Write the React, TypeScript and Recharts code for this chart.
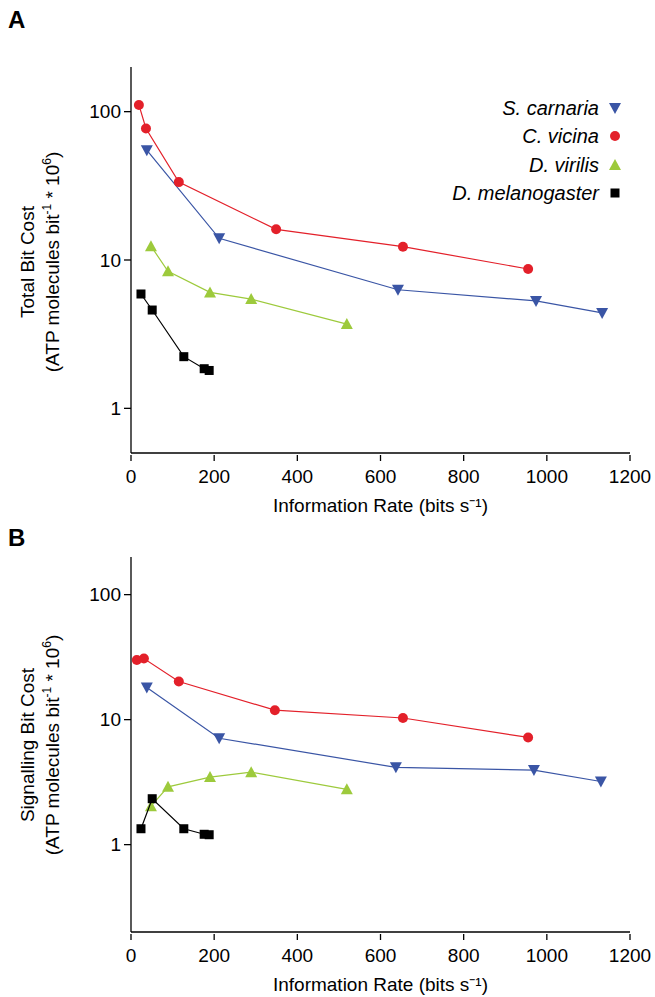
import React from 'react';
import { ScatterChart, Scatter, XAxis, YAxis, Legend } from 'recharts';

const speciesNames = ['S. carnaria', 'C. vicina', 'D. virilis', 'D. melanogaster'];
const speciesColors = ['#3a55a5', '#e3202a', '#9dca3c', '#000000'];
const speciesShapes = ['down', 'circle', 'up', 'square'];

// Panel A: total bit cost
const totalCarnaria = [ { x: 38, y: 55 }, { x: 212, y: 14 }, { x: 642, y: 6.3 }, { x: 974, y: 5.3 }, { x: 1133, y: 4.4 } ];
const totalVicina = [ { x: 19, y: 111 }, { x: 36, y: 77 }, { x: 115, y: 33.5 }, { x: 349, y: 16.1 }, { x: 654, y: 12.3 }, { x: 955, y: 8.7 } ];
const totalVirilis = [ { x: 48, y: 12.4 }, { x: 89, y: 8.4 }, { x: 190, y: 6.05 }, { x: 289, y: 5.45 }, { x: 519, y: 3.7 } ];
const totalMelano = [ { x: 24, y: 5.9 }, { x: 51, y: 4.6 }, { x: 127, y: 2.23 }, { x: 176, y: 1.85 }, { x: 188, y: 1.8 } ];

// Panel B: signalling bit cost
const sigCarnaria = [ { x: 38, y: 18.1 }, { x: 212, y: 7.1 }, { x: 637, y: 4.15 }, { x: 969, y: 3.95 }, { x: 1130, y: 3.2 } ];
const sigVicina = [ { x: 14, y: 30 }, { x: 31, y: 30.8 }, { x: 115, y: 20.2 }, { x: 346, y: 11.9 }, { x: 654, y: 10.3 }, { x: 955, y: 7.2 } ];
const sigVirilis = [ { x: 48, y: 2.03 }, { x: 89, y: 2.9 }, { x: 190, y: 3.47 }, { x: 289, y: 3.8 }, { x: 519, y: 2.77 } ];
const sigMelano = [ { x: 24, y: 1.34 }, { x: 51, y: 2.33 }, { x: 127, y: 1.34 }, { x: 176, y: 1.21 }, { x: 188, y: 1.2 } ];

const xTicks = [0, 200, 400, 600, 800, 1000, 1200];
const majorY = [1, 10, 100];
const minorA = [0.5, 0.6, 0.7, 0.8, 0.9, 2, 3, 4, 5, 6, 7, 8, 9, 20, 30, 40, 50, 60, 70, 80, 90, 200];
const minorB = [0.2, 0.3, 0.4, 0.5, 0.6, 0.7, 0.8, 0.9, 2, 3, 4, 5, 6, 7, 8, 9, 20, 30, 40, 50, 60, 70, 80, 90, 200];

const FONT = '"Liberation Sans", Arial, sans-serif';
const AXIS_X = 131;

function Marker({ kind, cx, cy, color }: any) {
  if (cx == null || cy == null) return null;
  const r = 5;
  if (kind === 'circle') return <circle cx={cx} cy={cy} r={r} fill={color} />;
  if (kind === 'square') return <rect x={cx - 4.5} y={cy - 4.5} width={9} height={9} fill={color} />;
  if (kind === 'up') return <polygon points={`${cx - 6},${cy + 5} ${cx + 6},${cy + 5} ${cx},${cy - 6}`} fill={color} />;
  return <polygon points={`${cx - 6},${cy - 5} ${cx + 6},${cy - 5} ${cx},${cy + 6}`} fill={color} />;
}

function MinorTick(p: any) {
  const y = Number(p.y);
  return <line x1={AXIS_X - 4.5} x2={AXIS_X} y1={y} y2={y} stroke="#000" strokeWidth={1.2} />;
}

function XTick(props: any) {
  const { x, y, payload } = props;
  return (
    <g>
      <line x1={x} x2={x} y1={y} y2={y + 6} stroke="#000" strokeWidth={1.3} />
      <text x={x} y={y + 28} textAnchor="middle" fontSize={19} fontFamily={FONT} fill="#000">
        {payload.value}
      </text>
    </g>
  );
}

function YLabel({ title, cy }: { title: string; cy: number }) {
  return (
    <g fontFamily={FONT} fontSize={19} fill="#000">
      <text transform={`translate(34, ${cy}) rotate(-90)`} textAnchor="middle">{title}</text>
      <text transform={`translate(59, ${cy}) rotate(-90)`} textAnchor="middle">
        (ATP molecules bit<tspan fontSize={12} dy={-8}>-1</tspan>
        <tspan dy={8}> * 10</tspan>
        <tspan fontSize={12} dy={-8}>6</tspan>
        <tspan dy={8}>)</tspan>
      </text>
    </g>
  );
}

function LegendContent() {
  const rows = [108, 136, 165, 193];
  return (
    <svg width={655} height={220} style={{ position: 'absolute', left: 0, top: 0, overflow: 'visible' }}>
      {speciesNames.map((name, i) => (
        <g key={i}>
          <text x={599} y={rows[i] + 7} textAnchor="end" fontSize={20} fontStyle="italic" fontFamily={FONT} fill="#000">
            {name}
          </text>
          <Marker kind={speciesShapes[i]} cx={615} cy={rows[i]} color={speciesColors[i]} />
        </g>
      ))}
    </svg>
  );
}

function Panel({ series, domain, minor, title, labelCy, height, top, bottom, showLegend }: any) {
  return (
    <ScatterChart width={655} height={height} margin={{ top, right: 25, bottom, left: 71 }}>
      <XAxis type="number" dataKey="x" domain={[0, 1200]} ticks={xTicks} tick={<XTick />} tickLine={false}
        tickSize={0} height={40} stroke="#000" strokeWidth={1.3} allowDataOverflow
        label={{ value: 'Information Rate (bits s⁻¹)', position: 'insideBottom', offset: -19, fontSize: 19, fontFamily: FONT, fill: '#000' }} />
      <YAxis yAxisId="minor" type="number" scale="log" domain={domain} ticks={minor} interval={0}
        tick={<MinorTick />} tickLine={false} axisLine={false}
        width={0} allowDataOverflow />
      <YAxis yAxisId="main" type="number" dataKey="y" scale="log" domain={domain} ticks={majorY} interval={0}
        tickSize={7} tickMargin={3} tickLine={{ stroke: '#000', strokeWidth: 1.3 }}
        tick={{ fontSize: 19, fontFamily: FONT, fill: '#000' }}
        width={60} stroke="#000" strokeWidth={1.3} allowDataOverflow
        label={{ content: () => <YLabel title={title} cy={labelCy} /> }} />
      {showLegend && <Legend content={<LegendContent />} wrapperStyle={{ position: 'absolute', left: 0, top: 0, width: 655 }} />}
      {series.map((d: any, i: number) => (
        <Scatter key={i} yAxisId="main" name={speciesNames[i]} data={d} fill={speciesColors[i]} line={{ stroke: speciesColors[i], strokeWidth: 1.2 }}
          lineType="joint" isAnimationActive={false}
          shape={(p: any) => <Marker kind={speciesShapes[i]} cx={p.cx} cy={p.cy} color={speciesColors[i]} />} />
      ))}
    </ScatterChart>
  );
}

export default function App() {
  return (
    <div style={{ position: 'absolute', left: 0, top: 0, width: 655, height: 997, background: '#fff', fontFamily: FONT }}>
      <div style={{ position: 'absolute', left: 0, top: 0 }}>
        <Panel series={[totalCarnaria, totalVicina, totalVirilis, totalMelano]} domain={[0.5, 200]} minor={minorA}
          title="Total Bit Cost" labelCy={262} height={530} top={67} bottom={37} showLegend />
      </div>
      <div style={{ position: 'absolute', left: 0, top: 530 }}>
        <Panel series={[sigCarnaria, sigVicina, sigVirilis, sigMelano]} domain={[0.2, 200]} minor={minorB}
          title="Signalling Bit Cost" labelCy={215} height={467} top={27} bottom={25} />
      </div>
      <div style={{ position: 'absolute', left: 8, top: 6, fontSize: 24, fontWeight: 'bold' }}>A</div>
      <div style={{ position: 'absolute', left: 8, top: 524, fontSize: 24, fontWeight: 'bold' }}>B</div>
    </div>
  );
}
